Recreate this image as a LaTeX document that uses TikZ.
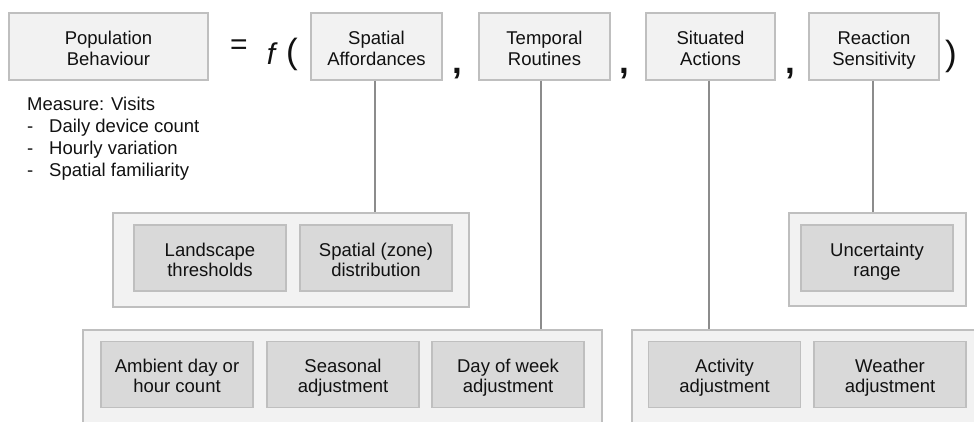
\documentclass[tikz,border=0pt]{standalone}
\usepackage{fontspec}
\setmainfont{Liberation Sans}

\definecolor{boxfill}{HTML}{F2F2F2}
\definecolor{itemfill}{HTML}{D9D9D9}
\definecolor{boxline}{HTML}{BFBFBF}
\definecolor{linkline}{HTML}{8C8C8C}
\definecolor{ink}{HTML}{111111}

\newcommand{\labelfont}{\fontsize{18.5}{21}\selectfont}
\newcommand{\symfont}{\fontsize{30}{30}\selectfont}
\newcommand{\parfont}{\fontsize{35}{35}\selectfont}

\tikzset{
    topbox/.style={draw=boxline, fill=boxfill, line width=1.2pt, minimum height=67pt, inner sep=0pt},
    groupbox/.style={draw=boxline, fill=boxfill, line width=1.2pt, inner sep=0pt},
    itembox/.style={draw=boxline, fill=itemfill, line width=1.2pt, minimum width=152pt,
        minimum height=66pt, inner sep=0pt},
    boxtext/.style={font=\labelfont, text=ink, inner sep=0pt, anchor=base},
    link/.style={draw=linkline, line width=1.5pt},
    sym/.style={inner sep=0pt, text=ink},
}

\begin{document}
\begin{tikzpicture}[x=1pt, y=-1pt]
        \useasboundingbox (0,0) rectangle (974,421);
        \clip (0,0) rectangle (974,421);

        % left hand side and the factors
        \node[topbox, minimum width=199pt] (pop) at (108.5,46.5) {};
        \node[topbox, minimum width=131pt] (spatial) at (376.5,46.5) {};
        \node[topbox, minimum width=131pt] (temporal) at (544.5,46.5) {};
        \node[topbox, minimum width=129pt] (situated) at (710.5,46.5) {};
        \node[topbox, minimum width=130pt] (reaction) at (874,46.5) {};
        \foreach \n/\a/\b in {pop/Population/Behaviour, spatial/Spatial/Affordances,
                temporal/Temporal/Routines, situated/Situated/Actions,
                reaction/Reaction/Sensitivity} {
            \node[boxtext] (\n-a) at ([yshift=2.5pt]\n.center) {\a};
            \node[boxtext] (\n-b) at ([yshift=-18.5pt]\n.center) {\b};
        }

        \node[sym, font=\symfont] (eq) at (239,47) {=};
        \node[sym, font=\symfont\itshape] (fn) at (271,54) {f};
        \node[sym, font=\parfont] (lpar) at (292,54) {(};
        \node[sym, font=\parfont] (c1) at (457,74) {\textbf{,}};
        \node[sym, font=\parfont] (c2) at (624,74) {\textbf{,}};
        \node[sym, font=\parfont] (c3) at (790,74) {\textbf{,}};
        \node[sym, font=\parfont] (rpar) at (951,56) {)};

        \node[anchor=north west, align=left, inner sep=0pt, text=ink,
              font=\fontsize{18.5}{22}\selectfont] (measure) at (27,97)
            {Measure: Visits\\
             \makebox[22pt][l]{-}Daily device count\\
             \makebox[22pt][l]{-}Hourly variation\\
             \makebox[22pt][l]{-}Spatial familiarity};

        % groups of components
        \node[groupbox, minimum width=356pt, minimum height=94pt] (lgroup) at (291,260) {};
        \node[groupbox, minimum width=177pt, minimum height=93pt] (rgroup) at (877.5,259.5) {};
        \node[groupbox, minimum width=519pt, minimum height=110pt] (tgroup) at (342.5,385) {};
        \node[groupbox, minimum width=358pt, minimum height=110pt] (sgroup) at (811,385) {};

        \node[itembox] (landscape) at (210,258) {};
        \node[itembox] (zone) at (376,258) {};
        \node[itembox] (uncert) at (877,258) {};
        \node[itembox] (ambient) at (177,374.5) {};
        \node[itembox] (seasonal) at (343,374.5) {};
        \node[itembox] (weekday) at (508,374.5) {};
        \node[itembox] (activity) at (724.5,374.5) {};
        \node[itembox] (weather) at (890,374.5) {};
        \foreach \n/\a/\b in {landscape/Landscape/thresholds, zone/Spatial (zone)/distribution,
                uncert/Uncertainty/range, ambient/Ambient day or/hour count,
                seasonal/Seasonal/adjustment, weekday/Day of week/adjustment,
                activity/Activity/adjustment, weather/Weather/adjustment} {
            \node[boxtext] (\n-a) at ([yshift=2pt]\n.center) {\a};
            \node[boxtext] (\n-b) at ([yshift=-18pt]\n.center) {\b};
        }

        \draw[link] ([xshift=-1.5pt]spatial.south) -- ([xshift=-1.5pt]spatial.south |- lgroup.north);
        \draw[link] ([xshift=-3.5pt]temporal.south) -- ([xshift=-3.5pt]temporal.south |- tgroup.north);
        \draw[link] ([xshift=-1.5pt]situated.south) -- ([xshift=-1.5pt]situated.south |- sgroup.north);
        \draw[link] ([xshift=-1pt]reaction.south) -- ([xshift=-1pt]reaction.south |- rgroup.north);
    \end{tikzpicture}
\end{document}
